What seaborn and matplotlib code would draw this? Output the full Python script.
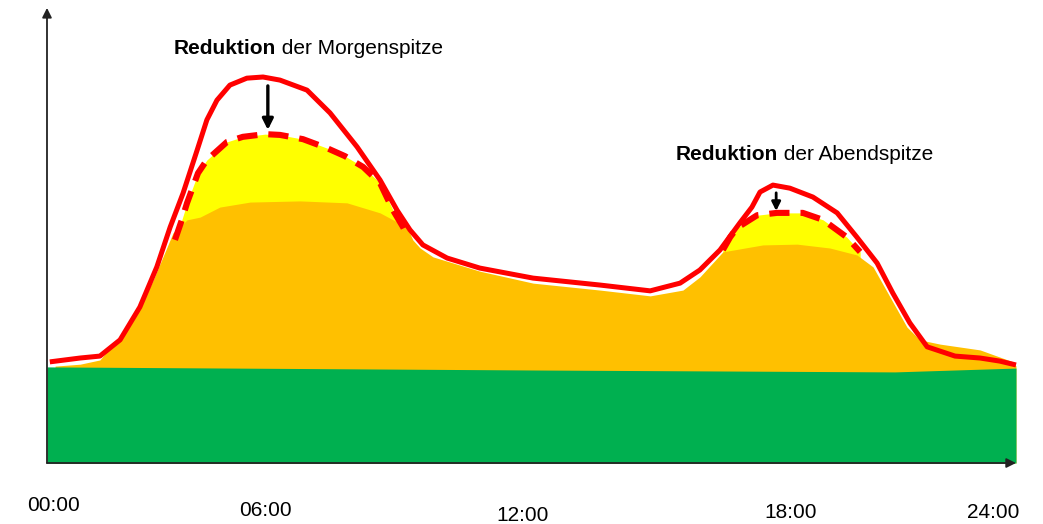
import numpy as np
import pandas as pd
import matplotlib
matplotlib.use("Agg")
import matplotlib.pyplot as plt
import seaborn as sns

# ---------------- data (hours, load units) ----------------
orig_h = [0.07, 0.82, 1.31, 1.81, 2.30, 2.72, 3.05, 3.37, 3.72, 3.96, 4.21, 4.53,
          4.95, 5.35, 5.77, 6.44, 7.01, 7.68, 8.25, 8.67, 8.99, 9.31, 9.91, 10.72,
          12.04, 13.70, 14.94, 15.68, 16.17, 16.67, 17.16, 17.46, 17.66, 17.98,
          18.40, 18.97, 19.57, 20.06, 20.56, 20.95, 21.37, 21.80, 22.49, 23.11,
          23.60, 24.0]
orig_v = [26.2, 27.2, 27.7, 31.9, 40.4, 50.8, 61.1, 69.9, 81.1, 88.9, 94.0, 97.9,
          99.7, 100.0, 99.2, 96.6, 90.7, 81.9, 73.3, 65.5, 60.4, 56.5, 53.1, 50.5,
          47.9, 46.1, 44.6, 46.6, 50.0, 55.2, 62.2, 66.3, 70.2, 72.0, 71.2, 68.9,
          64.8, 58.5, 51.8, 44.0, 36.3, 30.1, 27.7, 27.2, 26.4, 25.4]

morning_red_h = [3.17, 3.34, 3.47, 3.74, 3.96, 4.46, 4.85, 5.40, 5.77, 6.34, 6.93,
                 7.38, 7.83, 8.25, 8.57, 8.82, 8.94]
morning_red_v = [57.8, 63.0, 67.4, 75.1, 78.5, 83.2, 84.5, 85.2, 85.0, 83.9, 81.6,
                 79.5, 76.7, 72.5, 65.5, 61.1, 58.5]
evening_red_h = [16.74, 16.92, 17.09, 17.59, 18.08, 18.72, 19.22, 19.81, 20.14]
evening_red_v = [55.2, 58.5, 60.9, 64.2, 64.8, 64.8, 63.0, 58.5, 54.7]

shift_h = [0.20, 0.82, 1.31, 2.13, 2.63, 3.12, 3.47, 3.79, 4.28, 5.03, 6.27, 7.43,
           8.25, 8.57, 8.92, 9.06, 9.24, 9.56, 10.72, 12.04, 13.70, 14.94, 15.75,
           16.17, 16.74, 17.73, 18.58, 19.39, 20.06, 20.46, 20.88, 21.30, 21.62,
           22.12, 23.11, 23.93, 24.0]
shift_v = [25.1, 25.6, 26.7, 37.0, 47.4, 59.6, 63.0, 63.7, 66.3, 67.6, 67.9, 67.4,
           64.8, 63.0, 61.1, 57.8, 55.7, 53.4, 49.7, 46.6, 44.8, 43.3, 44.8, 48.2,
           54.7, 56.5, 56.7, 55.7, 53.9, 50.8, 43.0, 35.2, 31.9, 30.8, 29.3, 26.2,
           25.1]

base_h = [0.0, 12.0, 21.0, 24.0]
base_v = [24.9, 24.1, 23.6, 24.6]

tick_labels = ["00:00", "06:00", "12:00", "18:00", "24:00"]

# ---------------- colours ----------------
RED = "#FF0000"
ORANGE = "#FFC000"
YELLOW = "#FFFF00"
GREEN = "#00B050"

sns.set_theme(style="white")
plt.rcParams["font.family"] = ["Liberation Sans", "DejaVu Sans"]

fig = plt.figure(figsize=(10.43, 5.24), dpi=100)
ax = fig.add_axes([0, 0, 1, 1])
ax.set_xlim(-1.164, 24.669)
ax.set_ylim(-15.80, 119.95)
ax.axis("off")

# yellow (reduced-peak) areas
ax.fill_between(morning_red_h, 0, morning_red_v, color=YELLOW, lw=0, zorder=1)
ax.fill_between(evening_red_h, 0, evening_red_v, color=YELLOW, lw=0, zorder=1)
# orange (shifted load) area
ax.fill_between(shift_h, 0, shift_v, color=ORANGE, lw=0, zorder=2)
# green base load
ax.fill_between(base_h, 0, base_v, color=GREEN, lw=0, zorder=3)

# axes with arrows
ax.annotate("", xy=(0, 117.9), xytext=(0, 0),
            arrowprops=dict(arrowstyle="-|>", lw=1.3, color="#222222",
                            mutation_scale=14, shrinkA=0, shrinkB=0), zorder=4)
ax.annotate("", xy=(24.0, 0), xytext=(0, 0),
            arrowprops=dict(arrowstyle="-|>", lw=1.3, color="#222222",
                            mutation_scale=14, shrinkA=0, shrinkB=0), zorder=4)

# original load curve
orig = pd.DataFrame({"h": orig_h, "v": orig_v})
sns.lineplot(data=orig, x="h", y="v", ax=ax, color=RED, lw=3.6, zorder=5,
             solid_capstyle="butt", solid_joinstyle="round")

# reduced peaks (dashed)
morn = pd.DataFrame({"h": morning_red_h, "v": morning_red_v})
eve = pd.DataFrame({"h": evening_red_h, "v": evening_red_v})
for df in (morn, eve):
    sns.lineplot(data=df, x="h", y="v", ax=ax, color=RED, lw=4.4, zorder=6,
                 linestyle=(0, (3.3, 1.8)), dash_capstyle="butt",
                 dash_joinstyle="round")

# reduction arrows
ax.annotate("", xy=(5.47, 86.3), xytext=(5.47, 97.7),
            arrowprops=dict(arrowstyle="-|>", lw=2.4, color="black",
                            mutation_scale=16, shrinkA=0, shrinkB=0), zorder=7)
ax.annotate("", xy=(18.06, 65.3), xytext=(18.06, 70.0),
            arrowprops=dict(arrowstyle="-|>", lw=2.0, color="black",
                            mutation_scale=13, shrinkA=0, shrinkB=0), zorder=7)

# annotations with mixed bold / normal text
def label(x, y, bold, rest):
    t = ax.text(x, y, bold, fontsize=15, fontweight="bold", ha="left",
                va="center", color="black", zorder=8)
    ax.annotate(rest, xy=(1, 0), xycoords=t, ha="left", va="bottom",
                fontsize=15, color="black", zorder=8)

label(3.145, 107.5, "Reduktion", " der Morgenspitze")
label(15.58, 79.8, "Reduktion", " der Abendspitze")

# time labels (staggered as in the original)
tick_x = [0.15, 5.40, 11.79, 18.43, 23.43]
tick_y = [-10.9, -12.2, -13.5, -12.7, -12.95]
for lbl, tx, ty in zip(tick_labels, tick_x, tick_y):
    ax.text(tx, ty, lbl, fontsize=15, ha="center", va="center", color="black")

fig.savefig("out.png", dpi=100)
